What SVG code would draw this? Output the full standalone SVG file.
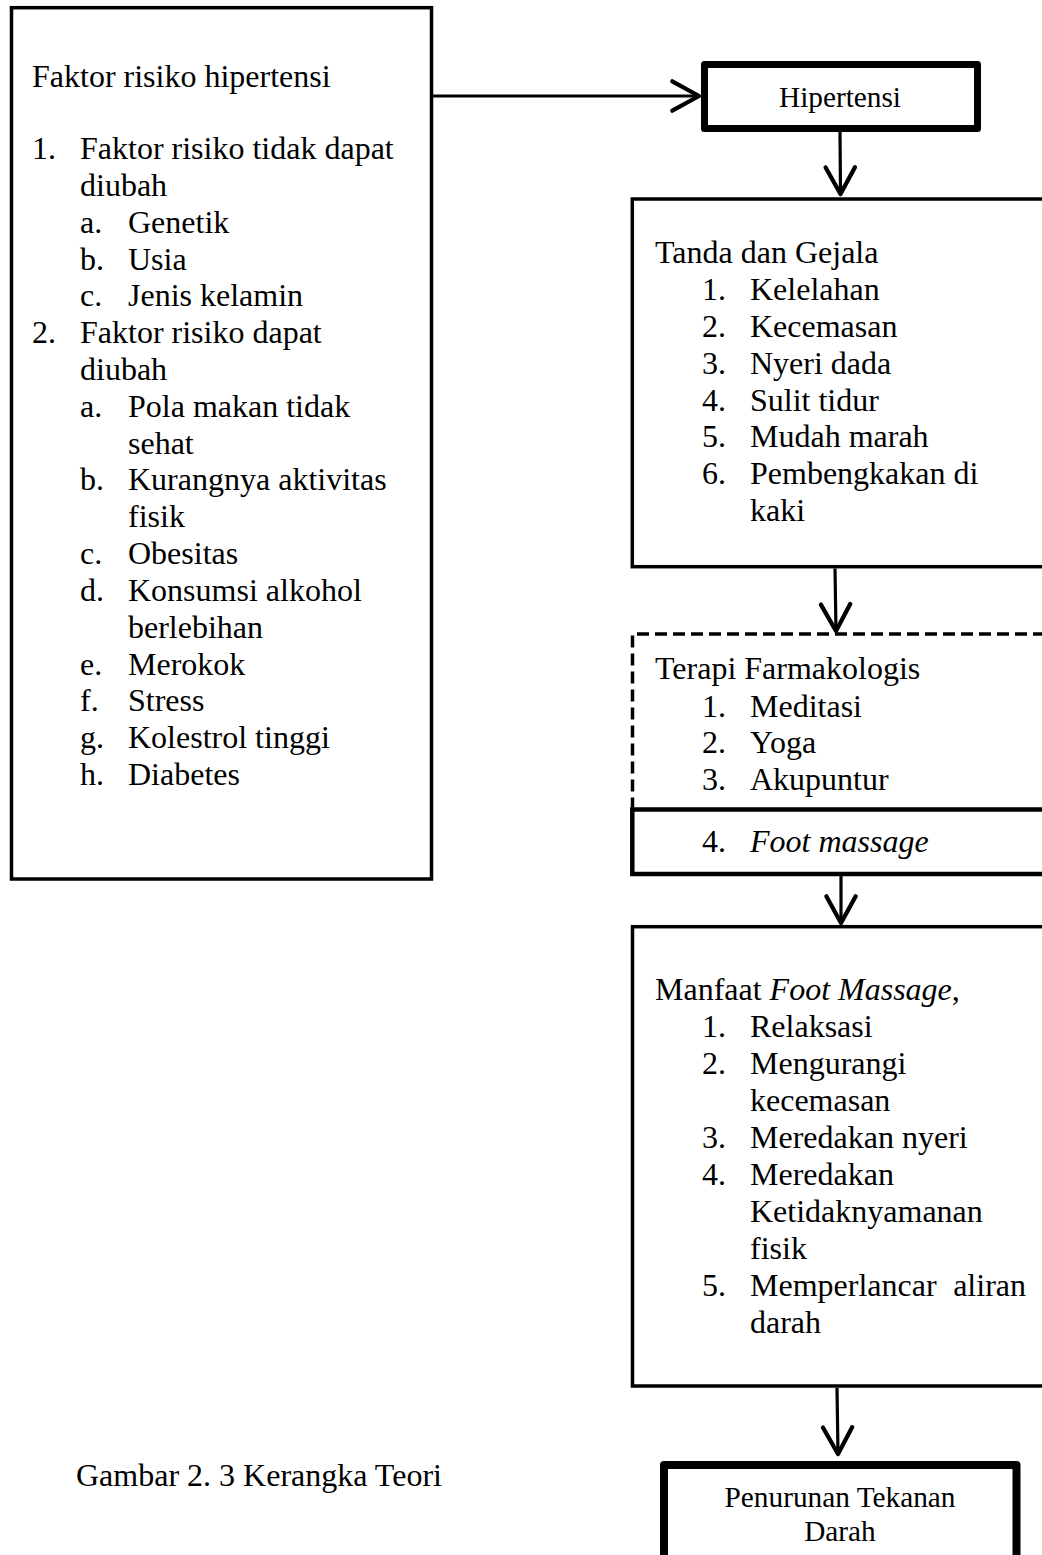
<svg xmlns="http://www.w3.org/2000/svg" width="1042" height="1555" viewBox="0 0 1042 1555">
<style>
text{font-family:"Liberation Serif","Times New Roman",serif;fill:#000}
.t{font-size:32px}
.s{font-size:29.3px}
.i{font-style:italic}
.box{fill:#fff;stroke:#000;stroke-width:3.5}
.thick{fill:#fff;stroke:#000;stroke-width:7;stroke-linejoin:round}
.dash{fill:none;stroke:#000;stroke-width:3.5;stroke-dasharray:12 6}
.conn{stroke:#000;stroke-width:3.2;fill:none;marker-end:url(#arr)}
</style>
<defs>
<marker id="arr" markerUnits="userSpaceOnUse" markerWidth="40" markerHeight="40" viewBox="-25 -15 30 30" refX="0" refY="0" orient="auto" overflow="visible">
<path d="M -20 -11 L 0 0 L -20 11" fill="none" stroke="#000" stroke-width="3.2" stroke-linecap="round" stroke-linejoin="round"/>
</marker>
</defs>
<rect width="1042" height="1555" fill="#fff"/>

<g id="node-faktor">
<rect class="box" x="11.5" y="7.7" width="420" height="871.3"/>
<text class="t" x="32" y="87">Faktor risiko hipertensi</text>
<text class="t" x="32" y="159">1.</text><text class="t" x="80" y="159">Faktor risiko tidak dapat</text>
<text class="t" x="80" y="196">diubah</text>
<text class="t" x="80" y="233">a.</text><text class="t" x="128" y="233">Genetik</text>
<text class="t" x="80" y="270">b.</text><text class="t" x="128" y="270">Usia</text>
<text class="t" x="80" y="306">c.</text><text class="t" x="128" y="306">Jenis kelamin</text>
<text class="t" x="32" y="343">2.</text><text class="t" x="80" y="343">Faktor risiko dapat</text>
<text class="t" x="80" y="380">diubah</text>
<text class="t" x="80" y="417">a.</text><text class="t" x="128" y="417">Pola makan tidak</text>
<text class="t" x="128" y="454">sehat</text>
<text class="t" x="80" y="490">b.</text><text class="t" x="128" y="490">Kurangnya aktivitas</text>
<text class="t" x="128" y="527">fisik</text>
<text class="t" x="80" y="564">c.</text><text class="t" x="128" y="564">Obesitas</text>
<text class="t" x="80" y="601">d.</text><text class="t" x="128" y="601">Konsumsi alkohol</text>
<text class="t" x="128" y="638">berlebihan</text>
<text class="t" x="80" y="675">e.</text><text class="t" x="128" y="675">Merokok</text>
<text class="t" x="80" y="711">f.</text><text class="t" x="128" y="711">Stress</text>
<text class="t" x="80" y="748">g.</text><text class="t" x="128" y="748">Kolestrol tinggi</text>
<text class="t" x="80" y="785">h.</text><text class="t" x="128" y="785">Diabetes</text>
</g>

<g id="node-hipertensi">
<rect class="thick" x="704.5" y="64.5" width="273" height="64"/>
<text class="s" x="840" y="107" text-anchor="middle">Hipertensi</text>
</g>

<g id="node-tanda">
<rect class="box" x="632.3" y="199" width="430" height="367.7"/>
<text class="t" x="655" y="263">Tanda dan Gejala</text>
<text class="t" x="702" y="300">1.</text><text class="t" x="750" y="300">Kelelahan</text>
<text class="t" x="702" y="337">2.</text><text class="t" x="750" y="337">Kecemasan</text>
<text class="t" x="702" y="374">3.</text><text class="t" x="750" y="374">Nyeri dada</text>
<text class="t" x="702" y="411">4.</text><text class="t" x="750" y="411">Sulit tidur</text>
<text class="t" x="702" y="447">5.</text><text class="t" x="750" y="447">Mudah marah</text>
<text class="t" x="702" y="484">6.</text><text class="t" x="750" y="484">Pembengkakan di</text>
<text class="t" x="750" y="521">kaki</text>
</g>

<g id="node-terapi">
<path class="dash" d="M 632.5 809.5 L 632.5 634 L 1062 634"/>
<text class="t" x="655" y="679">Terapi Farmakologis</text>
<text class="t" x="702" y="717">1.</text><text class="t" x="750" y="717">Meditasi</text>
<text class="t" x="702" y="753">2.</text><text class="t" x="750" y="753">Yoga</text>
<text class="t" x="702" y="790">3.</text><text class="t" x="750" y="790">Akupuntur</text>
</g>

<g id="node-footmassage">
<rect x="632.3" y="809.5" width="430" height="64.5" fill="#fff" stroke="#000" stroke-width="4.5"/>
<text class="t" x="702" y="852">4.</text><text class="t i" x="750" y="852">Foot massage</text>
</g>

<g id="node-manfaat">
<rect class="box" x="632.5" y="926.7" width="430" height="459.3"/>
<text class="t" x="655" y="1000">Manfaat <tspan class="i">Foot Massage</tspan>,</text>
<text class="t" x="702" y="1037">1.</text><text class="t" x="750" y="1037">Relaksasi</text>
<text class="t" x="702" y="1074">2.</text><text class="t" x="750" y="1074">Mengurangi</text>
<text class="t" x="750" y="1111">kecemasan</text>
<text class="t" x="702" y="1148">3.</text><text class="t" x="750" y="1148">Meredakan nyeri</text>
<text class="t" x="702" y="1185">4.</text><text class="t" x="750" y="1185">Meredakan</text>
<text class="t" x="750" y="1222">Ketidaknyamanan</text>
<text class="t" x="750" y="1259">fisik</text>
<text class="t" x="702" y="1296">5.</text><text class="t" x="750" y="1296">Memperlancar</text><text class="t" x="1026" y="1296" text-anchor="end">aliran</text>
<text class="t" x="750" y="1333">darah</text>
</g>

<g id="node-penurunan">
<rect x="664" y="1465" width="352.5" height="120" fill="#fff" stroke="#000" stroke-width="8" stroke-linejoin="round"/>
<text class="s" x="840" y="1507" text-anchor="middle">Penurunan Tekanan</text>
<text class="s" x="840" y="1541" text-anchor="middle">Darah</text>
</g>

<g id="caption">
<text class="t" x="76" y="1486">Gambar 2. 3 Kerangka Teori</text>
</g>

<g id="connectors">
<line class="conn" x1="433" y1="96" x2="699" y2="96"/>
<line class="conn" x1="840" y1="132" x2="840.5" y2="194"/>
<line class="conn" x1="835" y1="568.5" x2="836" y2="631"/>
<line class="conn" x1="841" y1="876" x2="841" y2="923"/>
<line class="conn" x1="837" y1="1388" x2="838" y2="1454"/>
</g>
</svg>
